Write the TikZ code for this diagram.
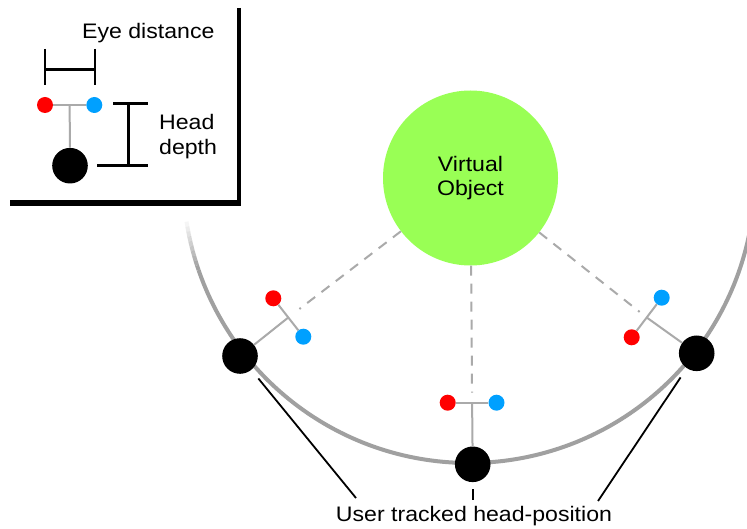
\documentclass[tikz,border=0pt]{standalone}
\usepackage{fontspec}
\setmainfont{Liberation Sans}[FakeStretch=1.1]
\usetikzlibrary{calc}

\definecolor{eyered}{RGB}{255,0,0}
\definecolor{eyeblue}{RGB}{0,160,255}
\definecolor{objgreen}{RGB}{153,255,85}
\definecolor{stalkgray}{RGB}{170,170,170}
\definecolor{ringgray}{RGB}{160,160,160}

\tikzset{
  head/.style={circle, fill=black, minimum size=35.6pt, inner sep=0pt},
  reye/.style={circle, fill=eyered, minimum size=16pt, inner sep=0pt},
  beye/.style={circle, fill=eyeblue, minimum size=16pt, inner sep=0pt},
  stalk/.style={draw=stalkgray, line width=2pt},
  sight/.style={draw=stalkgray, line width=2pt, dash pattern=on 10pt off 8pt},
  ring/.style={draw=ringgray, line width=4pt, line cap=butt},
  lead/.style={draw=black, line width=1.8pt},
  bar/.style={draw=black, line width=2.5pt},
  lbl/.style={font=\fontsize{21}{24}\selectfont, inner sep=0pt},
  obj/.style={circle, fill=objgreen, minimum size=175pt, inner sep=0pt,
              align=center, font=\fontsize{21}{24}\selectfont}
}

\begin{document}
\begin{tikzpicture}[x=1pt, y=-1pt]
\useasboundingbox (0,0) rectangle (747,529);
\fill[white] (0,0) rectangle (747,529);

% tracking circle, fading in at its upper left end
\begin{scope}
\clip (0,0) rectangle (747,529);
\foreach \i in {0,...,9}{
  \draw[ring, draw opacity={(\i+1)/10}]
    plot[domain={171-\i}:{170-\i}, samples=4] ({469+286*cos(\x)},{177+286*sin(\x)});
}
\draw[ring] plot[domain=161:8, samples=160] ({469+286*cos(\x)},{177+286*sin(\x)});
\end{scope}

% virtual object
\node[obj] (obj) at (470.5,178) {Virtual\\Object};

% tracked heads and their eyes
\node[head] (hl) at (240,356) {};
\node[reye] (rl) at (273.3,298.3) {};
\node[beye] (bl) at (303.3,336.7) {};

\node[head] (hb) at (472.7,464.3) {};
\node[reye] (rb) at (447.7,402.7) {};
\node[beye] (bb) at (496.5,402.7) {};

\node[head] (hr) at (696.7,353.3) {};
\node[beye] (br) at (661.7,297.7) {};
\node[reye] (rr) at (631.7,337.3) {};

\coordinate (jl) at ($(rl)!0.5!(bl)$);
\coordinate (jb) at ($(rb)!0.5!(bb)$);
\coordinate (jr) at ($(br)!0.5!(rr)$);

% eye bars and neck stalks
\draw[stalk] (rl) -- (bl);
\draw[stalk] (hl) -- (jl);
\draw[stalk] (rb) -- (bb);
\draw[stalk] (hb) -- (jb);
\draw[stalk] (br) -- (rr);
\draw[stalk] (hr) -- (jr);

% lines of sight towards the object
\draw[sight, shorten >=14pt] (obj) -- (jl);
\draw[sight, shorten >=10pt] (obj) -- (jb);
\draw[sight, shorten >=9pt] (obj) -- (jr);

% caption and its leaders
\node[lbl, anchor=base] (cap) at (474,521.5) {User tracked head-position};
\coordinate (cl) at (356,498);
\coordinate (cm) at (472.7,500);
\coordinate (cr) at (598,501);
\draw[lead, shorten <=11pt] (hl) -- (cl);
\draw[lead, shorten <=7pt] (hb) -- (cm);
\draw[lead, shorten <=11pt] (hr) -- (cr);

% legend box
\draw[black, line width=4pt] (239,8) -- (239,206.5);
\draw[black, line width=6pt] (10,203.5) -- (241,203.5);

\node[lbl, anchor=base west] (ed) at (82,38.3) {Eye distance};
\draw[bar] (45,49) -- (45,85);
\draw[bar] (95,49) -- (95,85);
\draw[bar] (45,69.5) -- (95,69.5);

\node[reye] (kr) at (45,105) {};
\node[beye] (kb) at (94.3,105) {};
\node[head] (kh) at (70,165.7) {};
\coordinate (kj) at ($(kr)!0.5!(kb)$);
\draw[stalk] (kr) -- (kb);
\draw[stalk] (kh) -- (kj);

\draw[bar] (113,103.3) -- (148,103.3);
\draw[bar] (128.3,103.3) -- (128.3,165.7);
\draw[bar] (97,165.7) -- (148,165.7);
\node[lbl, anchor=base west] (hd1) at (159,130) {Head};
\node[lbl, anchor=base west] (hd2) at (159,155) {depth};
\end{tikzpicture}
\end{document}
